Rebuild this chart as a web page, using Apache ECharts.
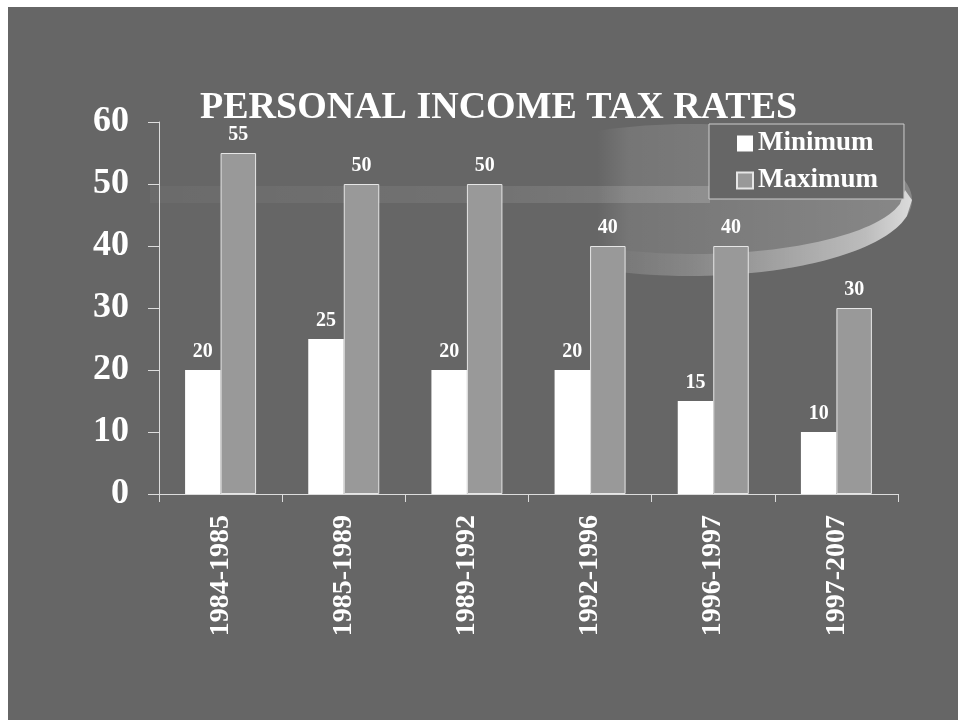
<!DOCTYPE html>
<html>
<head>
<meta charset="utf-8">
<script src="https://cdn.jsdelivr.net/npm/echarts@6/dist/echarts.min.js"></script>
<style>
  html, body { margin: 0; padding: 0; background: #ffffff; width: 958px; height: 720px; overflow: hidden; }
  #chart { position: absolute; left: 8px; top: 7px; width: 950px; height: 713px; }
</style>
</head>
<body>
<div id="chart"></div>
<script>
// Tax brackets by period
var periods = ['1984-1985', '1985-1989', '1989-1992', '1992-1996', '1996-1997', '1997-2007'];
var minimumRates = [20, 25, 20, 20, 15, 10];
var maximumRates = [55, 50, 50, 40, 40, 30];
var yTicks = [0, 10, 20, 30, 40, 50, 60];

var serif = '"Liberation Serif", "Times New Roman", serif';

var chart = echarts.init(document.getElementById('chart'), null, { renderer: 'canvas' });

// Decorative swoosh behind the plot
function fade(stops) {
  return new echarts.graphic.LinearGradient(0, 0, 1, 0, stops);
}

// Lower rim of an ellipse between two x positions, as polygon vertices
function rim(cx, cy, rx, ry, x0, x1, steps) {
  var pts = [];
  for (var i = 0; i <= steps; i++) {
    var x = x0 + (x1 - x0) * i / steps;
    var t = Math.max(0, 1 - Math.pow((x - cx) / rx, 2));
    pts.push([x, cy + ry * Math.sqrt(t)]);
  }
  return pts;
}
var outerRim = rim(690, 200, 222, 76, 600, 912, 60);
var innerRim = rim(695, 190, 210, 64, 905, 600, 60);
var crescent = outerRim.concat(innerRim);

var option = {
  backgroundColor: '#666666',
  animation: false,
  title: {
    text: 'PERSONAL INCOME TAX RATES',
    left: 187,
    top: 77,
    textStyle: { color: '#ffffff', fontFamily: serif, fontWeight: 'bold', fontSize: 38 }
  },
  legend: {
    orient: 'vertical',
    left: 701,
    top: 117,
    padding: [6, 26, 5, 27],
    itemGap: 10,
    itemWidth: 16,
    itemHeight: 16,
    icon: 'rect',
    backgroundColor: '#666666',
    borderColor: '#cccccc',
    borderWidth: 1,
    textStyle: { color: '#ffffff', fontFamily: serif, fontWeight: 'bold', fontSize: 27, lineHeight: 27 },
    data: ['Minimum', 'Maximum']
  },
  graphic: [{
    type: 'group',
    x: -8,
    y: -7,
    z: -1,
    children: [
      {
        type: 'rect',
        z: -1,
        shape: { x: 150, y: 186, width: 560, height: 17 },
        style: { fill: fade([
          { offset: 0, color: 'rgba(255,255,255,0.03)' },
          { offset: 0.6, color: 'rgba(255,255,255,0.08)' },
          { offset: 1, color: 'rgba(255,255,255,0.16)' }
        ]) }
      },
      {
        type: 'ellipse',
        z: -1,
        shape: { cx: 690, cy: 200, rx: 222, ry: 76 },
        style: { fill: fade([
          { offset: 0, color: 'rgba(255,255,255,0)' },
          { offset: 0.29, color: 'rgba(255,255,255,0)' },
          { offset: 0.36, color: 'rgba(255,255,255,0.1)' },
          { offset: 1, color: 'rgba(255,255,255,0.22)' }
        ]) }
      },
      {
        type: 'polygon',
        z: -1,
        shape: { points: crescent },
        style: { fill: fade([
          { offset: 0, color: 'rgba(255,255,255,0)' },
          { offset: 0.3, color: 'rgba(255,255,255,0.1)' },
          { offset: 0.85, color: 'rgba(255,255,255,0.45)' },
          { offset: 1, color: 'rgba(255,255,255,0.7)' }
        ]) }
      }
    ]
  }],
  grid: { left: 151, right: 60, top: 115, bottom: 226, containLabel: false },
  xAxis: {
    type: 'category',
    data: periods,
    axisLine: { lineStyle: { color: '#dddddd', width: 1 } },
    axisTick: { show: true, length: 8, lineStyle: { color: '#dddddd' } },
    axisLabel: { rotate: 90, margin: 21, color: '#ffffff', fontFamily: serif, fontWeight: 'bold', fontSize: 28 }
  },
  yAxis: {
    type: 'value',
    min: yTicks[0],
    max: yTicks[yTicks.length - 1],
    interval: yTicks[1] - yTicks[0],
    splitLine: { show: false },
    axisLine: { show: true, lineStyle: { color: '#dddddd', width: 1 } },
    axisTick: { show: true, length: 11, lineStyle: { color: '#dddddd' } },
    axisLabel: { margin: 30, color: '#ffffff', fontFamily: serif, fontWeight: 'bold', fontSize: 36 }
  },
  series: [
    {
      name: 'Minimum',
      type: 'bar',
      data: minimumRates,
      barWidth: 35.5,
      barGap: '0%',
      itemStyle: { color: '#ffffff' },
      label: { show: true, position: 'top', distance: 8, color: '#ffffff', fontFamily: serif, fontWeight: 'bold', fontSize: 20 }
    },
    {
      name: 'Maximum',
      type: 'bar',
      data: maximumRates,
      barWidth: 35.5,
      barGap: '0%',
      itemStyle: { color: '#999999', borderColor: '#e6e6e6', borderWidth: 1 },
      label: { show: true, position: 'top', distance: 8, color: '#ffffff', fontFamily: serif, fontWeight: 'bold', fontSize: 20 }
    }
  ]
};

chart.setOption(option);
</script>
</body>
</html>
